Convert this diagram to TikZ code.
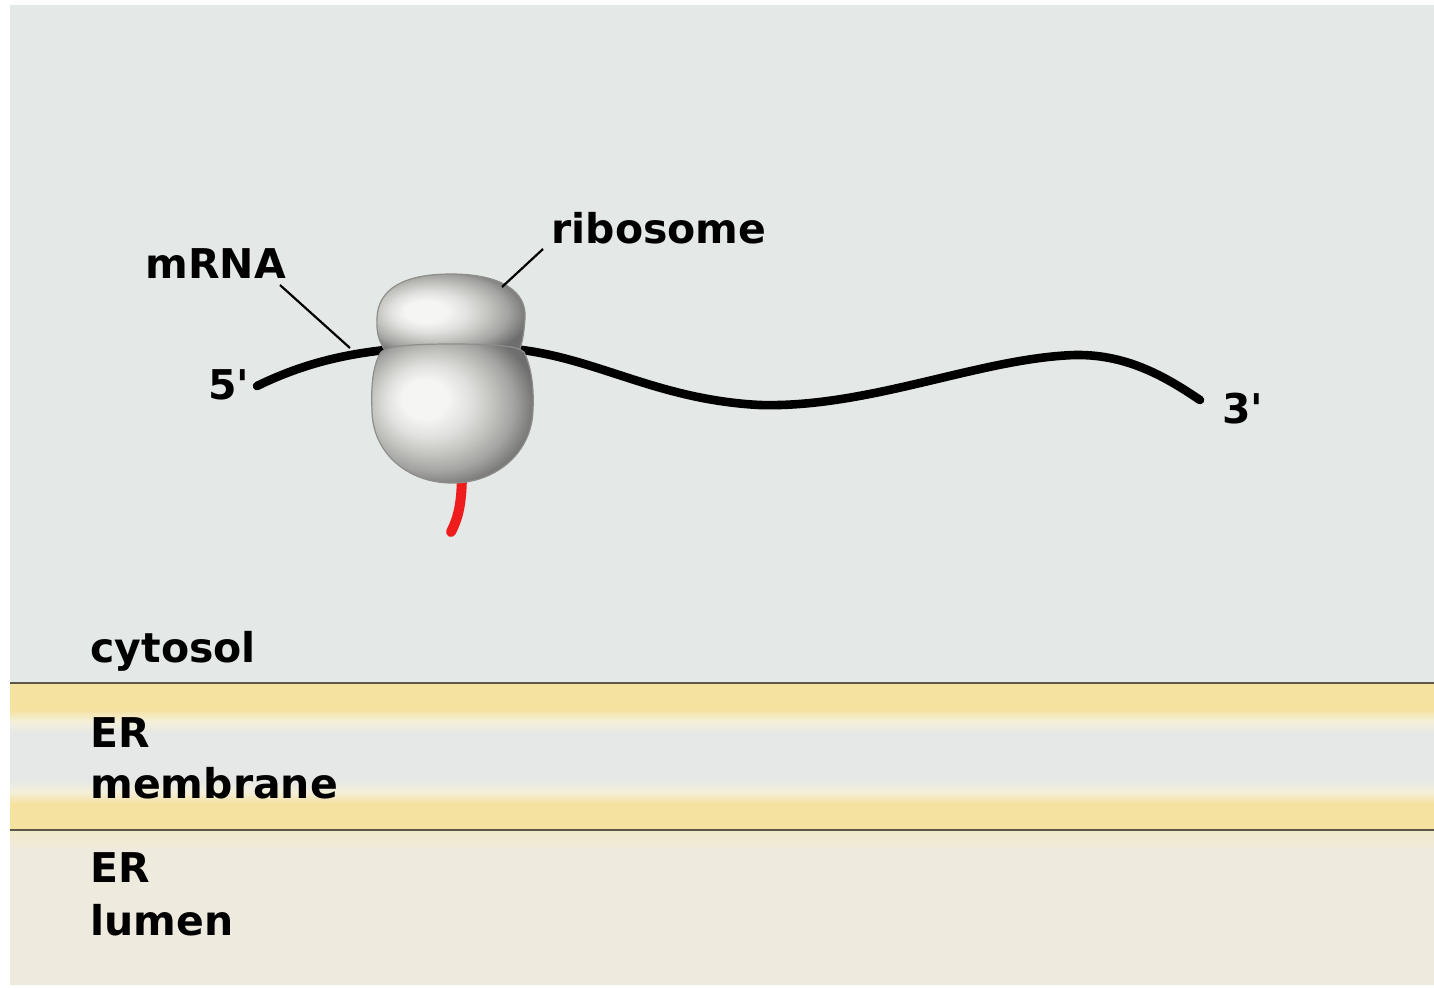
\documentclass[tikz,border=0pt]{standalone}
\usepackage{fontspec}
\setmainfont{DejaVu Sans}[Ligatures=TeXOff]

% palette
\definecolor{cytobg}{HTML}{E4E8E6}
\definecolor{lumenbg}{HTML}{EEEADD}
\definecolor{lumenpale}{HTML}{F3EACB}
\definecolor{memyel}{HTML}{F5E1A0}
\definecolor{mempale}{HTML}{F4F0DA}
\definecolor{memmid}{HTML}{E5E8E7}
\definecolor{memline}{HTML}{5B5749}
\definecolor{ribohi}{HTML}{F5F6F4}
\definecolor{ribolt}{HTML}{E0E1DE}
\definecolor{ribomid}{HTML}{C6C6C2}
\definecolor{ribogray}{HTML}{A3A3A1}
\definecolor{ribodark}{HTML}{6E6E6E}
\definecolor{riboedge}{HTML}{8E8E8A}
\definecolor{chainred}{HTML}{EE1C1C}

% lipid bilayer: yellow head groups at both faces, pale core
\pgfdeclareverticalshading{membraneshade}{100bp}{%
  color(0bp)=(memyel); color(25bp)=(memyel); color(34bp)=(memyel);
  color(38bp)=(mempale); color(42bp)=(memmid); color(58bp)=(memmid);
  color(62bp)=(mempale); color(66bp)=(memyel); color(75bp)=(memyel);
  color(100bp)=(memyel)}
\pgfdeclareverticalshading{lumentop}{100bp}{%
  color(0bp)=(lumenbg); color(25bp)=(lumenbg); color(75bp)=(lumenpale);
  color(100bp)=(lumenpale)}

% ribosome subunits, lit from the upper left
\pgfdeclareradialshading{smallshade}{\pgfpoint{-10bp}{1bp}}{%
  color(0bp)=(ribohi); color(7bp)=(ribohi); color(13bp)=(ribolt);
  color(18bp)=(ribomid); color(24bp)=(ribogray); color(30bp)=(ribodark);
  color(50bp)=(ribodark)}
\pgfdeclareradialshading{largeshade}{\pgfpoint{-10bp}{6bp}}{%
  color(0bp)=(ribohi); color(7bp)=(ribohi); color(13bp)=(ribolt);
  color(18bp)=(ribomid); color(24bp)=(ribogray); color(30bp)=(ribodark);
  color(50bp)=(ribodark)}

\begin{document}
\begin{tikzpicture}[x=0.5pt, y=-0.5pt,
  lbl/.style={font=\fontsize{20.5}{24}\selectfont\bfseries, inner sep=0pt,
    anchor=base west, text=black},
  leader/.style={line width=1.1pt, black},
  strand/.style={line width=4.3pt, line cap=round, black},
  nascent/.style={line width=5pt, line cap=round, chainred},
  subunit/.style={draw=riboedge, line width=0.6pt}]

\useasboundingbox (0,0) rectangle (1434,987);
\fill[white] (0,0) rectangle (1434,987);

% compartments
\fill[cytobg] (10,5) rectangle (1434,683);
\shade[shading=membraneshade] (10,683) rectangle (1434,830);
\fill[lumenbg] (10,830) rectangle (1434,985);
\shade[shading=lumentop] (10,831) rectangle (1434,850);
\draw[memline, line width=1.3pt] (10,683) -- (1434,683);
\draw[memline, line width=1.3pt] (10,830) -- (1434,830);

% mRNA strand, threaded between the subunits
\draw[strand] (257,386) .. controls (300,365) and (340,355) .. (385,350)
  -- (522,350) .. controls (600,360) and (660,400) .. (760,405)
  .. controls (870,408) and (980,358) .. (1075,355)
  .. controls (1130,354) and (1170,380) .. (1200,400);

% growing polypeptide
\draw[nascent] (462,470) .. controls (462,505) and (458,518) .. (451,532);

% small subunit
\shadedraw[shading=smallshade, subunit]
  (451,274) .. controls (502,274) and (527,292) .. (525,318)
  .. controls (524,335) and (522,343) .. (519,352) -- (386,352)
  .. controls (380,343) and (376,335) .. (377,318)
  .. controls (378,290) and (402,274) .. (451,274) -- cycle;

% large subunit
\shadedraw[shading=largeshade, subunit]
  (452,344) .. controls (495,344) and (518,346) .. (524,352)
  .. controls (532,368) and (534,390) .. (533,410)
  .. controls (532,452) and (497,483) .. (452,483)
  .. controls (407,483) and (372,452) .. (372,410)
  .. controls (371,390) and (372,366) .. (381,352)
  .. controls (388,346) and (410,344) .. (452,344) -- cycle;

% labels
\node[lbl] (lblmrna) at (145,278) {mRNA};
\node[lbl] (lblribo) at (551,243) {ribosome};
\node[lbl] (lblfive) at (208,399) {5'};
\node[lbl] (lblthree) at (1222,423) {3'};
\node[lbl] (lblcyto) at (90,662) {cytosol};
\node[lbl] (lblerm) at (90,747) {ER};
\node[lbl] (lblmem) at (90,798) {membrane};
\node[lbl] (lblerl) at (90,882) {ER};
\node[lbl] (lbllumen) at (90,935) {lumen};

% leader lines
\coordinate (mrnaFoot) at (280,285);
\coordinate (mrnaTip) at (350,348);
\coordinate (riboFoot) at (543,249);
\coordinate (riboTip) at (502,287);
\draw[leader] (mrnaFoot) -- (mrnaTip);
\draw[leader] (riboFoot) -- (riboTip);
\end{tikzpicture}
\end{document}
